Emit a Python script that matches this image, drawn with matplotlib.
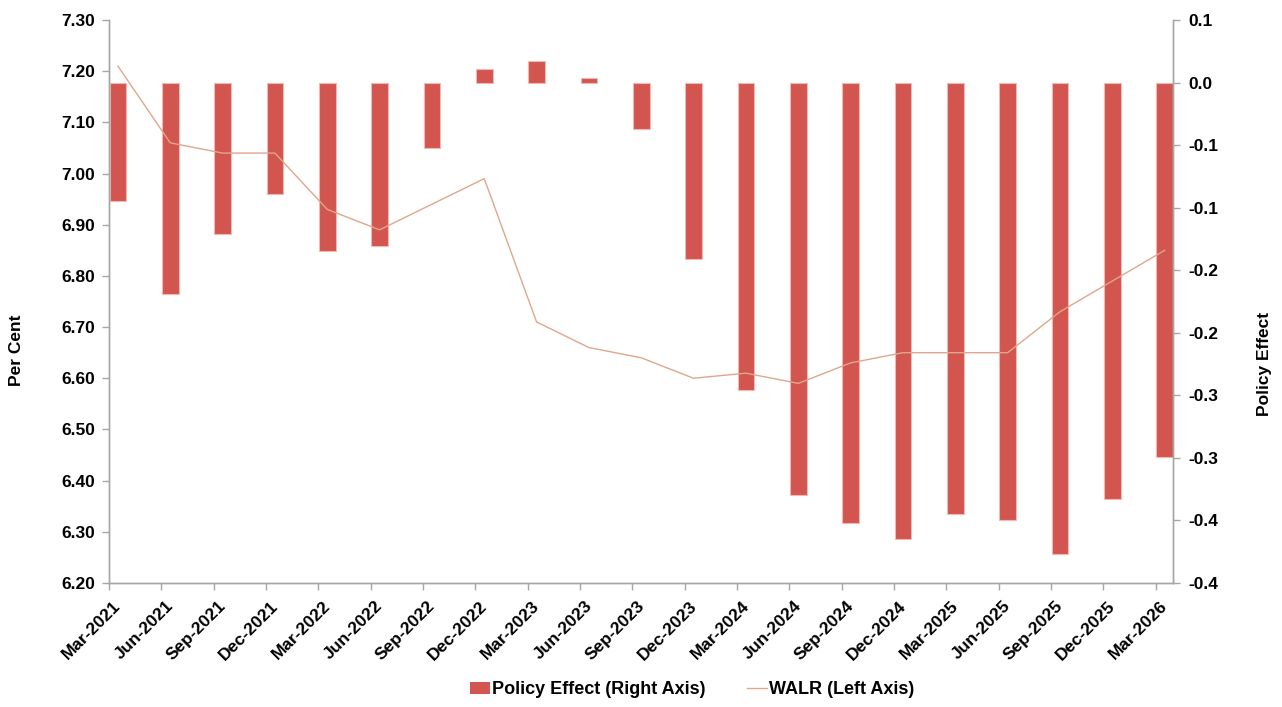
import matplotlib
matplotlib.use("Agg")
import matplotlib.pyplot as plt
from matplotlib.patches import Patch
from matplotlib.lines import Line2D
import numpy as np

plt.rcParams['font.family'] = ['Liberation Sans', 'DejaVu Sans']
plt.rcParams['font.weight'] = 'bold'

quarters = ["Mar-2021", "Jun-2021", "Sep-2021", "Dec-2021", "Mar-2022", "Jun-2022",
            "Sep-2022", "Dec-2022", "Mar-2023", "Jun-2023", "Sep-2023", "Dec-2023",
            "Mar-2024", "Jun-2024", "Sep-2024", "Dec-2024", "Mar-2025", "Jun-2025",
            "Sep-2025", "Dec-2025", "Mar-2026"]

policy_effect = [-0.095, -0.169, -0.121, -0.089, -0.135, -0.131, -0.052, 0.011,
                 0.017, 0.004, -0.037, -0.141, -0.246, -0.330, -0.352, -0.365,
                 -0.345, -0.350, -0.377, -0.333, -0.299]

walr = [7.21, 7.06, 7.04, 7.04, 6.93, 6.89, 6.94, 6.99, 6.71, 6.66, 6.64, 6.60,
        6.61, 6.59, 6.63, 6.65, 6.65, 6.65, 6.73, 6.79, 6.85]

left_ticks = [6.20, 6.30, 6.40, 6.50, 6.60, 6.70, 6.80, 6.90, 7.00, 7.10, 7.20, 7.30]
right_ticks = [0.05, 0.0, -0.05, -0.1, -0.15, -0.2, -0.25, -0.3, -0.35, -0.4]
right_tick_labels = ["0.1", "0.0", "-0.1", "-0.1", "-0.2", "-0.2",
                     "-0.3", "-0.3", "-0.4", "-0.4"]

BAR_COLOR = "#D2554F"
BAR_EDGE = "#F2B9B2"
LINE_COLOR = "#E0A68C"
AXIS_COLOR = "#A6A6A6"
FS = 12.5

fig = plt.figure(figsize=(12.82, 7.07), dpi=100)
W, H = 1282, 707
ax = fig.add_axes([109 / W, 1 - 583 / H, (1173 - 109) / W, (583 - 20) / H])
ax2 = ax.twinx()

idx = np.arange(len(quarters))
offset = 0.17
centers = idx + offset

# Bars on the right axis
ax2.bar(centers, policy_effect, width=0.32, color=BAR_COLOR, edgecolor=BAR_EDGE,
        linewidth=0.8, zorder=2)
ax2.set_ylim(-0.4, 0.05)
ax2.set_yticks(right_ticks)
ax2.set_yticklabels(right_tick_labels)

# WALR line on the left axis, drawn above the bars
ax.plot(centers, walr, color=LINE_COLOR, linewidth=1.0, zorder=5)
ax.set_ylim(6.20, 7.30)
ax.set_yticks(left_ticks)
ax.set_yticklabels([f"{v:.2f}" for v in left_ticks])
ax.set_zorder(ax2.get_zorder() + 1)
ax.patch.set_visible(False)

ax.set_xlim(0, len(quarters) - 1 + 0.33)
ax.set_xticks(idx)
ax.set_xticklabels([])
ax.set_xticks(idx + 0.08, minor=True)
ax.set_xticklabels(quarters, minor=True, rotation=45, ha='right',
                   rotation_mode='anchor', fontsize=FS, fontweight='bold')
ax.tick_params(axis='x', which='minor', length=0, pad=11)
ax.tick_params(axis='x', which='major', length=5, color=AXIS_COLOR, width=1)

for a in (ax, ax2):
    a.spines['top'].set_visible(False)
    for side in ('left', 'right', 'bottom'):
        a.spines[side].set_color(AXIS_COLOR)
        a.spines[side].set_linewidth(1.0)

ax.tick_params(axis='y', length=5, color=AXIS_COLOR, width=1, labelsize=FS, pad=5)
ax2.tick_params(axis='y', length=5, color=AXIS_COLOR, width=1, labelsize=FS, pad=6)
for lab in ax.get_yticklabels() + ax2.get_yticklabels():
    lab.set_fontweight('bold')

ax.set_ylabel("Per Cent", fontsize=FS, fontweight='bold')
ax2.set_ylabel("Policy Effect", fontsize=FS, fontweight='bold')
ax.yaxis.set_label_coords(-0.080, 0.414)
ax2.yaxis.set_label_coords(1.079, 0.389)

handles = [Patch(facecolor=BAR_COLOR, edgecolor='none'),
           Line2D([0], [0], color=LINE_COLOR, linewidth=1.0)]
labels = ["Policy Effect (Right Axis)", "WALR (Left Axis)"]
fig.legend(handles, labels, loc='center', bbox_to_anchor=(692 / W, 1 - 690 / H),
           ncol=2, frameon=False, handlelength=1.1, handleheight=0.6,
           handletextpad=0.1, columnspacing=2.3, prop={'weight': 'bold', 'size': 13})

fig.savefig("out.png", dpi=100)
